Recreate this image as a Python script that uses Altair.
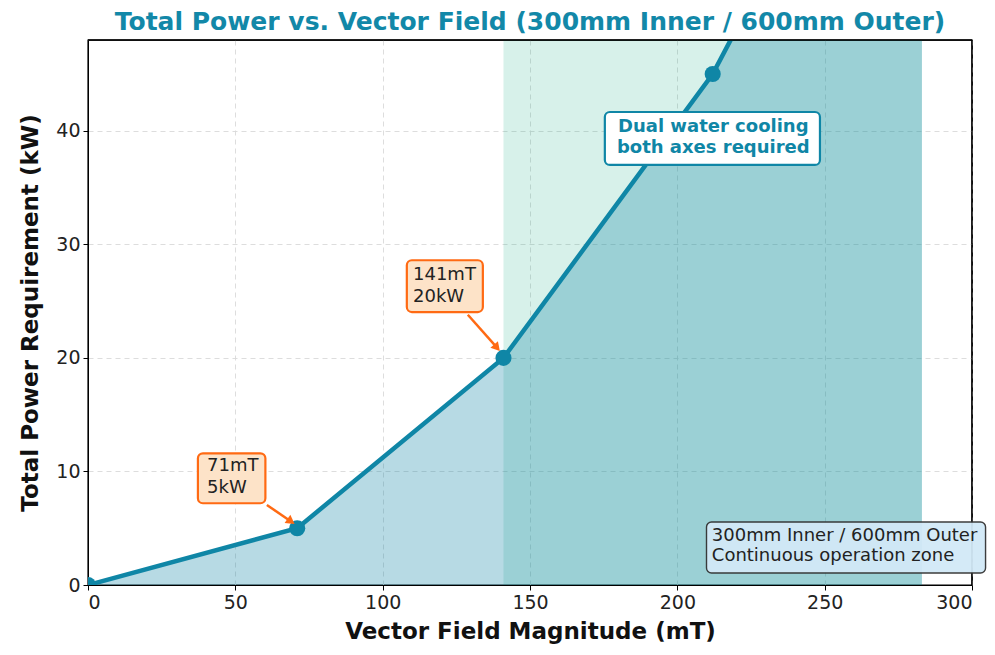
import altair as alt
import pandas as pd

# data
field_mT = [0, 71, 141, 212, 283]
power_kW = [0, 5, 20, 45, 80]
zone_start = 141
zone_end = 283

LINE = "#0f86a6"
ORANGE = "#ff6a13"
FONT = "DejaVu Sans"

W, H = 884, 545
xs = alt.Scale(domain=[0, 300], nice=False)
ys = alt.Scale(domain=[0, 48], nice=False)

df = pd.DataFrame({"x": field_mT, "y": power_kW})

common = dict(grid=True, gridDash=[5, 4], gridColor="#d9d9d9", gridOpacity=0.9,
              labelFontSize=19, titleFontSize=23, titleFontWeight="bold",
              labelFont=FONT, titleFont=FONT, domainColor="black", tickColor="black",
              labelColor="#222222", titleColor="#111111", tickSize=5, labelPadding=3)
xax = alt.Axis(values=[0, 50, 100, 150, 200, 250, 300], title="Vector Field Magnitude (mT)",
               titlePadding=8, **common)
yax = alt.Axis(values=[0, 10, 20, 30, 40], title="Total Power Requirement (kW)",
               titlePadding=13, **common)

zone = alt.Chart(pd.DataFrame({"a": [zone_start], "b": [zone_end]})).mark_rect(
    color="#06a77d", opacity=0.16).encode(
    x=alt.X("a:Q", scale=xs, axis=xax), x2="b:Q")

area = alt.Chart(df).mark_area(color=LINE, opacity=0.3, clip=True).encode(
    x=alt.X("x:Q", scale=xs, axis=xax), y=alt.Y("y:Q", scale=ys, axis=yax))

line = alt.Chart(df).mark_line(color=LINE, strokeWidth=4.5, clip=True).encode(
    x=alt.X("x:Q", scale=xs), y=alt.Y("y:Q", scale=ys))

pts = alt.Chart(df).mark_point(color=LINE, filled=True, opacity=1, size=260, clip=True).encode(
    x=alt.X("x:Q", scale=xs), y=alt.Y("y:Q", scale=ys))

# frame edges (top and right spines)
frame_r = alt.Chart(pd.DataFrame({"k": [0]})).mark_rule(color="black", strokeWidth=1.4).encode(
    x=alt.value(W), y=alt.value(0), y2=alt.value(H))
frame_t = alt.Chart(pd.DataFrame({"k": [0]})).mark_rule(color="black", strokeWidth=1.4).encode(
    x=alt.value(0), x2=alt.value(W), y=alt.value(0))

layers = [zone, area, line, pts, frame_r, frame_t]

# annotation boxes (data coords)
boxes = [
    # x1, x2, y1, y2, fill, stroke
    (37.3, 60.2, 7.2, 11.6, "#fde3c8", ORANGE),
    (108.2, 134.0, 24.04, 28.6, "#fde3c8", ORANGE),
    (175.4, 248.4, 37.0, 41.66, "white", LINE),
    (209.9, 304.6, 1.06, 5.55, "#d2e9f7", "#333333"),
]
for x1, x2, y1, y2, fill, stroke in boxes:
    layers.append(alt.Chart(pd.DataFrame({"x1": [x1], "x2": [x2], "y1": [y1], "y2": [y2]})).mark_rect(
        fill=fill, stroke=stroke, strokeWidth=2.2 if stroke != "#333333" else 1.4,
        cornerRadius=5, opacity=0.95 if stroke == "#333333" else 1).encode(
        x=alt.X("x1:Q", scale=xs), x2="x2:Q", y=alt.Y("y1:Q", scale=ys), y2="y2:Q"))

# arrows: start, head centre, head angle
arrows = [
    (60.7, 7.05, 68.9, 5.6, 125),
    (128.9, 23.8, 138.8, 20.9, 139),
]
for x1, y1, x2, y2, ang in arrows:
    layers.append(alt.Chart(pd.DataFrame({"x1": [x1], "x2": [x2], "y1": [y1], "y2": [y2]})).mark_rule(
        color=ORANGE, strokeWidth=2.5).encode(
        x=alt.X("x1:Q", scale=xs), x2="x2:Q", y=alt.Y("y1:Q", scale=ys), y2="y2:Q"))
    layers.append(alt.Chart(pd.DataFrame({"x": [x2], "y": [y2]})).mark_point(
        shape="triangle-up", filled=True, color=ORANGE, opacity=1, size=100, angle=ang).encode(
        x=alt.X("x:Q", scale=xs), y=alt.Y("y:Q", scale=ys)))

# texts (y = centre of first line)
texts = [
    (40.4, 10.45, "71mT\n5kW", "left", "normal", "#222222", 18, 22),
    (110.3, 27.3, "141mT\n20kW", "left", "normal", "#222222", 18, 22),
    (212.2, 40.3, "Dual water cooling\nboth axes required", "center", "bold", LINE, 18, 21),
    (211.7, 4.3, "300mm Inner / 600mm Outer\nContinuous operation zone", "left", "normal", "#222222", 18, 20),
]
for x, y, t, al, fw, col, fs, lh in texts:
    layers.append(alt.Chart(pd.DataFrame({"x": [x], "y": [y], "t": [t]})).mark_text(
        align=al, baseline="middle", fontWeight=fw, color=col, fontSize=fs, font=FONT,
        lineBreak="\n", lineHeight=lh).encode(
        x=alt.X("x:Q", scale=xs), y=alt.Y("y:Q", scale=ys), text="t:N"))

chart = alt.layer(*layers).properties(
    width=W, height=H,
    title=alt.TitleParams("Total Power vs. Vector Field (300mm Inner / 600mm Outer)",
                          font=FONT, fontSize=25, fontWeight="bold", color="#1288a8",
                          anchor="middle", offset=4),
    autosize=alt.AutoSizeParams(type="none"),
    padding={"left": 80, "top": 32, "right": 15, "bottom": 60},
).configure(background="white").configure_view(stroke="black", strokeWidth=1.4)

chart.save("out.html", embed_options={"renderer": "svg", "actions": False})
